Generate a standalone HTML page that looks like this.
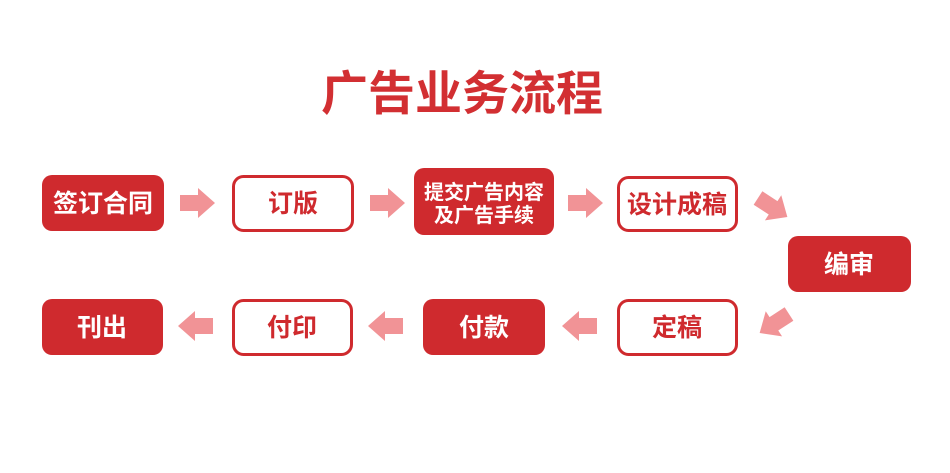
<!DOCTYPE html>
<html><head><meta charset="utf-8"><style>
body{margin:0;background:#fff;}
svg{display:block}
text{font-family:"Liberation Sans","Noto Sans CJK SC",sans-serif;font-weight:bold;}
</style></head><body>
<svg width="950" height="473" viewBox="0 0 950 473" xmlns="http://www.w3.org/2000/svg">
<defs>
<path id="ar" d="M0,-8 L18,-8 L18,-15 L35,0 L18,15 L18,8 L0,8 Z" fill="#f19396"/>
</defs>
<text x="462" y="110" font-size="47" fill="#d22f32" text-anchor="middle">广告业务流程</text>

<g fill="#cf2a2e">
<rect x="42" y="175" width="122" height="56" rx="10"/>
<rect x="414" y="168" width="140" height="67" rx="10"/>
<rect x="788" y="236" width="123" height="56" rx="10"/>
<rect x="42" y="299" width="121" height="56" rx="10"/>
<rect x="423" y="299" width="122" height="56" rx="10"/>
</g>
<g fill="#fff" stroke="#cf2a2e" stroke-width="3">
<rect x="233.5" y="176.5" width="119" height="54" rx="10"/>
<rect x="618.5" y="177.5" width="118" height="53" rx="10"/>
<rect x="233.5" y="300.5" width="118" height="54" rx="10"/>
<rect x="618.5" y="300.5" width="118" height="54" rx="10"/>
</g>

<g font-size="25" text-anchor="middle">
<text x="103" y="212" fill="#fff">签订合同</text>
<text x="293" y="212" fill="#cf2a2e">订版</text>
<text x="484" y="199" fill="#fff" font-size="20">提交广告内容</text>
<text x="484" y="222" fill="#fff" font-size="20">及广告手续</text>
<text x="677" y="213" fill="#cf2a2e">设计成稿</text>
<text x="849" y="273" fill="#fff">编审</text>
<text x="102" y="336" fill="#fff">刊出</text>
<text x="292" y="336" fill="#cf2a2e">付印</text>
<text x="484" y="336" fill="#fff">付款</text>
<text x="677" y="336" fill="#cf2a2e">定稿</text>
</g>

<use href="#ar" transform="translate(180,203)"/>
<use href="#ar" transform="translate(370,203)"/>
<use href="#ar" transform="translate(568,203)"/>
<use href="#ar" transform="translate(758,198) rotate(33)"/>
<use href="#ar" transform="translate(213,326) rotate(180)"/>
<use href="#ar" transform="translate(403,326) rotate(180)"/>
<use href="#ar" transform="translate(597,326) rotate(180)"/>
<use href="#ar" transform="translate(789,314) rotate(147)"/>
</svg>
</body></html>
